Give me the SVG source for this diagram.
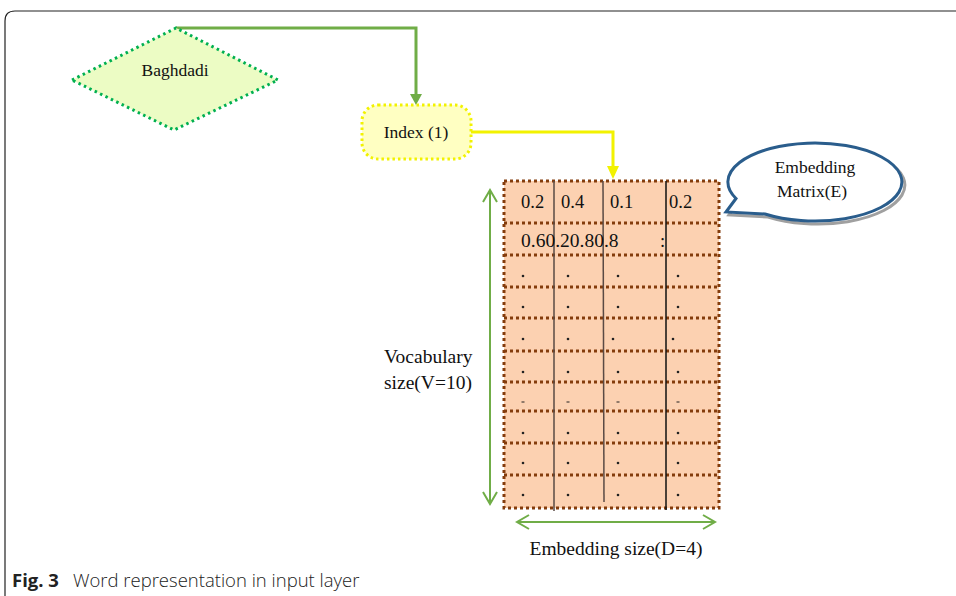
<svg xmlns="http://www.w3.org/2000/svg" width="956" height="596" viewBox="0 0 956 596">
<style>
.t{font-family:"Liberation Serif","Times New Roman",serif;fill:#111;}
.cell{font-size:18.5px;}
.lbl{font-size:19.5px;}
.dot{fill:#222;}
</style>
<defs>
<marker id="av" markerWidth="16" markerHeight="16" refX="14" refY="8" orient="auto-start-reverse" markerUnits="userSpaceOnUse" viewBox="0 0 16 16"><path d="M2,1 L14,8 L2,15" fill="none" stroke="#70ad47" stroke-width="2"/></marker>
</defs>
<rect width="956" height="596" fill="#fff"/>
<path d="M5,596 V21 Q5,11 15,11 H956" fill="none" stroke="#222" stroke-width="1.2"/>

<g id="connectors">
<path d="M176,28 H416 V96" fill="none" stroke="#70ad47" stroke-width="3"/>
<polygon points="410,94 422,94 416,105" fill="#70ad47"/>
<path d="M471,132 H613 V168" fill="none" stroke="#f2f200" stroke-width="3"/>
<polygon points="607,166 619,166 613,179" fill="#f2f200"/>
<line x1="490" y1="190" x2="490" y2="504" stroke="#70ad47" stroke-width="2" marker-start="url(#av)" marker-end="url(#av)"/>
<line x1="517" y1="522" x2="715" y2="522" stroke="#70ad47" stroke-width="2" marker-start="url(#av)" marker-end="url(#av)"/>
</g>

<g id="baghdadi">
<path d="M72,80 L176,28 L278,80 L174,130 Z" fill="#ecfcc4" stroke="#00b050" stroke-width="3" stroke-dasharray="2.5,3.5"/>
<text class="t" x="175" y="76" font-size="17.5" text-anchor="middle">Baghdadi</text>
</g>

<g id="index">
<rect x="362" y="105" width="109" height="54" rx="16" fill="#ffffc2" stroke="#f2f200" stroke-width="3" stroke-dasharray="2.5,3"/>
<text class="t" x="416" y="138" font-size="17.5" text-anchor="middle">Index (1)</text>
</g>

<g id="matrix">
<rect x="504" y="181" width="215" height="327" fill="#fcd1b1"/>
<g stroke="#843c0c" stroke-width="3" stroke-dasharray="3,3" fill="none">
<rect x="504" y="181" width="215" height="327"/>
<line x1="504" y1="223" x2="719" y2="223"/>
<line x1="504" y1="255" x2="719" y2="255"/>
<line x1="504" y1="287" x2="719" y2="287"/>
<line x1="504" y1="318" x2="719" y2="318"/>
<line x1="504" y1="351" x2="719" y2="351"/>
<line x1="504" y1="382" x2="719" y2="382"/>
<line x1="504" y1="411" x2="719" y2="411"/>
<line x1="504" y1="443" x2="719" y2="443"/>
<line x1="504" y1="475" x2="719" y2="475"/>
</g>
<line x1="554" y1="181" x2="554" y2="511" stroke="#5a4a44" stroke-width="1.5"/>
<line x1="603" y1="181" x2="604" y2="502" stroke="#5a4a44" stroke-width="1.5"/>
<line x1="666" y1="181" x2="666" y2="510" stroke="#111" stroke-width="1.5"/>
<text class="t cell" x="521" y="208">0.2</text>
<text class="t cell" x="561" y="208">0.4</text>
<text class="t cell" x="610" y="208">0.1</text>
<text class="t cell" x="669" y="208">0.2</text>
<text class="t" x="521" y="247" font-size="19.5">0.60.20.80.8</text>
<text class="t cell" x="660" y="247">:</text>
<g class="dot">
<circle cx="523" cy="276" r="1.3"/><circle cx="568" cy="276" r="1.3"/><circle cx="618" cy="276" r="1.3"/><circle cx="678" cy="276" r="1.3"/>
<circle cx="523" cy="307" r="1.3"/><circle cx="568" cy="307" r="1.3"/><circle cx="618" cy="307" r="1.3"/><circle cx="678" cy="307" r="1.3"/>
<circle cx="523" cy="339" r="1.3"/><circle cx="568" cy="339" r="1.3"/><circle cx="613" cy="339" r="1.3"/><circle cx="673" cy="339" r="1.3"/>
<circle cx="523" cy="372" r="1.3"/><circle cx="568" cy="372" r="1.3"/><circle cx="618" cy="372" r="1.3"/><circle cx="678" cy="372" r="1.3"/>
<rect x="521.5" y="401.5" width="3" height="1"/><rect x="566.5" y="401.5" width="3" height="1"/><rect x="616.5" y="401.5" width="3" height="1"/><rect x="676.5" y="401.5" width="3" height="1"/>
<circle cx="523" cy="433" r="1.3"/><circle cx="568" cy="433" r="1.3"/><circle cx="618" cy="433" r="1.3"/><circle cx="678" cy="433" r="1.3"/>
<circle cx="523" cy="463" r="1.3"/><circle cx="568" cy="463" r="1.3"/><circle cx="618" cy="463" r="1.3"/><circle cx="678" cy="463" r="1.3"/>
<circle cx="523" cy="495" r="1.3"/><circle cx="568" cy="495" r="1.3"/><circle cx="618" cy="495" r="1.3"/><circle cx="678" cy="495" r="1.3"/>
</g>
</g>

<g id="callout">
<path d="M739,201.5 L729,215 L768,217 A87 39 0 1 0 739,201.5 Z" fill="none" stroke="#a0a0a0" stroke-width="3"/>
<path d="M736,198.5 L726,212 L765,214 A87 39 0 1 0 736,198.5 Z" fill="#fff" stroke="#2a5d8c" stroke-width="3"/>
<text class="t" x="815" y="173" font-size="17.5" text-anchor="middle">Embedding</text>
<text class="t" x="812" y="197" font-size="17.5" text-anchor="middle">Matrix(E)</text>
</g>

<g id="labels">
<text class="t lbl" x="384" y="363">Vocabulary</text>
<text class="t lbl" x="384" y="389">size(V=10)</text>
<text class="t lbl" x="616" y="555" text-anchor="middle">Embedding size(D=4)</text>
</g>

<text x="12" y="587" font-family="'Open Sans','Noto Sans',sans-serif" font-size="18.5" fill="#222"><tspan font-weight="bold">Fig. 3</tspan><tspan dx="14" font-weight="300">Word representation in input layer</tspan></text>
</svg>
